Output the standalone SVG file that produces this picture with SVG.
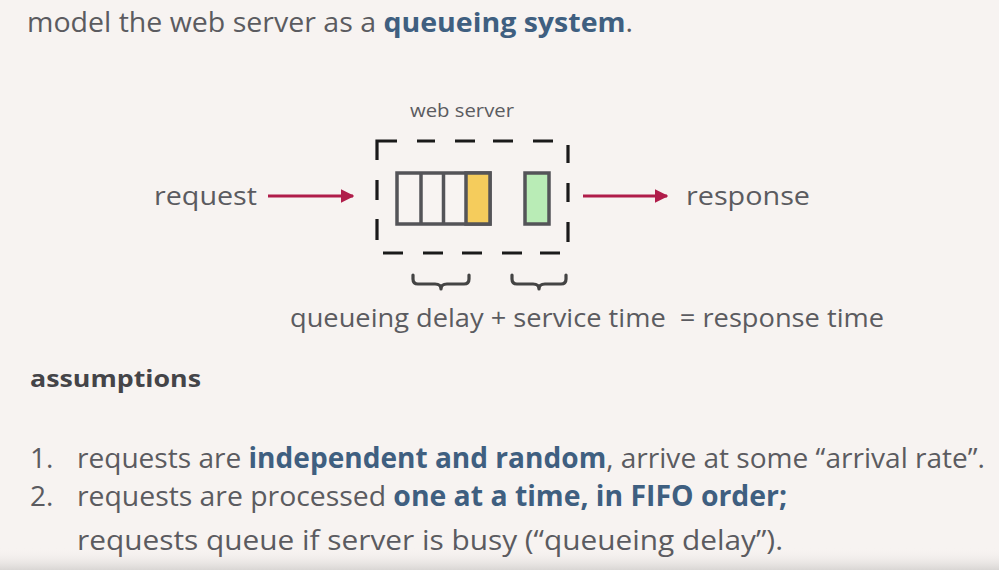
<svg xmlns="http://www.w3.org/2000/svg" width="999" height="570" viewBox="0 0 999 570">
<defs>
<style>
text{font-family:"Open Sans",Lato,"Liberation Sans",sans-serif;fill:#5b5b60;white-space:pre}
.b{font-weight:bold;fill:#3f5f80}
.lbl{font-size:26px}
.cell{fill:#f8f4f2;stroke:#545458;stroke-width:3.5}
.dash{fill:none;stroke:#1a1a1a;stroke-width:3.2}
.arrow{stroke:#b01d4a;stroke-width:3;fill:none;marker-end:url(#ah)}
.brace{fill:none;stroke:#444;stroke-width:3.2;stroke-linecap:round;stroke-linejoin:round}
</style>
<marker id="ah" viewBox="0 0 10 10" refX="9" refY="5" markerWidth="4.5" markerHeight="4.5" orient="auto" markerUnits="strokeWidth">
<path d="M0,0 L10,5 L0,10 z" fill="#b01d4a"/>
</marker>
<linearGradient id="bot" x1="0" y1="0" x2="0" y2="1">
<stop offset="0" stop-color="#f7f3f1" stop-opacity="0"/>
<stop offset="1" stop-color="#d9d6d4"/>
</linearGradient>
</defs>
<rect width="999" height="570" fill="#f7f3f1"/>
<rect y="548" width="999" height="22" fill="url(#bot)"/>

<text x="27" y="32" font-size="27" textLength="606" lengthAdjust="spacingAndGlyphs">model the web server as a <tspan class="b">queueing system</tspan>.</text>

<g id="webserver">
<text x="410" y="117" font-size="18" textLength="104" lengthAdjust="spacingAndGlyphs">web server</text>
<path class="dash" d="M377,160 V141 H397 M417,141 H435 M455,141 H475 M493,141 H513 M533,141 H553 M568,145 V163 M568,183 V202 M568,222 V242 M560,253 H540 M522,253 H502 M482,253 H462 M443,253 H423 M403,253 H383 M377,240 V219 M377,200 V180"/>
</g>

<g id="queue">
<rect class="cell" x="397" y="173" width="93" height="51"/>
<rect x="466" y="173" width="24" height="51" fill="#f5cc5c" stroke="#545458" stroke-width="3.5"/>
<line x1="421" y1="173" x2="421" y2="224" stroke="#545458" stroke-width="3.5"/>
<line x1="443.5" y1="173" x2="443.5" y2="224" stroke="#545458" stroke-width="3.5"/>
</g>

<g id="server">
<rect x="525" y="173" width="24" height="51" fill="#b9ecb6" stroke="#545458" stroke-width="3.5"/>
</g>

<g id="request"><text class="lbl" x="154" y="205" textLength="103" lengthAdjust="spacingAndGlyphs">request</text></g>
<g id="response"><text class="lbl" x="686" y="205" textLength="124" lengthAdjust="spacingAndGlyphs">response</text></g>

<g id="connectors">
<line class="arrow" x1="268" y1="196" x2="353" y2="196"/>
<line class="arrow" x1="583" y1="196" x2="667" y2="196"/>
</g>

<g id="braces">
<path class="brace" d="M413,275 V279 Q413,284 418,284 H435 Q441,284 441,289 Q441,284 447,284 H464 Q469,284 469,279 V275"/>
<path class="brace" d="M512,275 V279 Q512,284 517,284 H533 Q539,284 539,289 Q539,284 545,284 H561 Q566,284 566,279 V275"/>
</g>

<text x="290" y="327" font-size="25" textLength="594" lengthAdjust="spacingAndGlyphs">queueing delay + service time  = response time</text>

<text x="30" y="387" font-size="24" font-weight="bold" style="fill:#444448" textLength="171" lengthAdjust="spacingAndGlyphs">assumptions</text>

<text x="30" y="468" font-size="28">1.</text>
<text x="77" y="468" font-size="28" textLength="908" lengthAdjust="spacingAndGlyphs">requests are <tspan class="b">independent and random</tspan>, arrive at some “arrival rate”.</text>
<text x="30" y="506" font-size="28">2.</text>
<text x="77" y="506" font-size="28" textLength="710" lengthAdjust="spacingAndGlyphs">requests are processed <tspan class="b">one at a time, in FIFO order;</tspan></text>
<text x="77" y="550" font-size="28" textLength="706" lengthAdjust="spacingAndGlyphs">requests queue if server is busy (“queueing delay”).</text>
</svg>
